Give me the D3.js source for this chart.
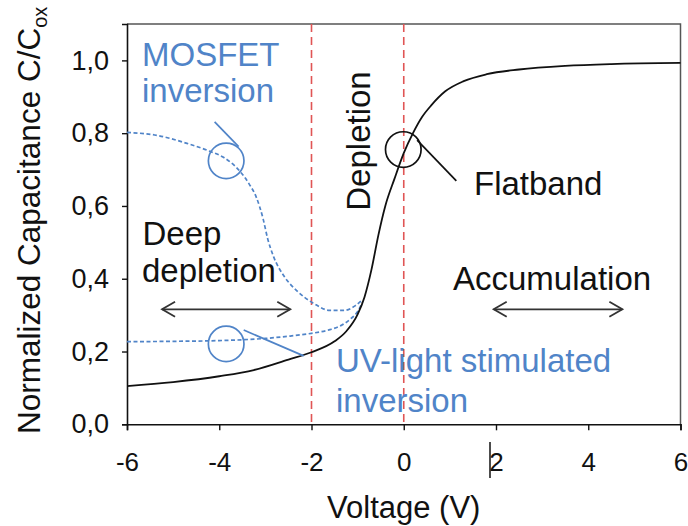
<!DOCTYPE html>
<html>
<head>
<meta charset="utf-8">
<script src="https://cdn.jsdelivr.net/npm/d3@7"></script>
<style>
  html, body { margin: 0; padding: 0; background: #fff; }
  svg { display: block; font-family: "Liberation Sans", Arial, sans-serif; }
</style>
</head>
<body>
<svg id="chart" width="688" height="526"></svg>
<script>
// C-V characteristic of a MOS capacitor (normalized capacitance vs gate voltage)

// High-frequency C-V curve (solid black)
const hfVoltage = [-6, -5, -4, -3.25, -2.5, -2, -1.5, -1.25, -1.0, -0.85, -0.7, -0.55, -0.4, -0.2, 0, 0.2, 0.4, 0.6, 0.9, 1.3, 1.8, 2.5, 3.5, 4.5, 6];
const hfCap     = [0.105, 0.116, 0.132, 0.149, 0.178, 0.198, 0.228, 0.255, 0.302, 0.35, 0.425, 0.52, 0.6, 0.675, 0.745, 0.8, 0.845, 0.877, 0.915, 0.943, 0.962, 0.975, 0.985, 0.99, 0.993];

// MOSFET inversion branch (dashed blue)
const mosVoltage = [-6, -5.4, -4.7, -4.2, -3.9, -3.55, -3.35, -3.2, -3.05, -2.95, -2.82, -2.6, -2.31, -1.95, -1.6, -1.3, -1.05, -0.9];
const mosCap     = [0.802, 0.795, 0.772, 0.75, 0.733, 0.695, 0.66, 0.625, 0.565, 0.51, 0.46, 0.408, 0.366, 0.332, 0.313, 0.313, 0.326, 0.342];

// UV-light stimulated inversion branch (dashed blue)
const uvVoltage = [-6, -5, -4, -3, -2.5, -2, -1.6, -1.35, -1.15, -1.0, -0.9];
const uvCap     = [0.227, 0.228, 0.23, 0.236, 0.242, 0.25, 0.26, 0.272, 0.29, 0.31, 0.335];

// Axes
const xTicks = [-6, -4, -2, 0, 2, 4, 6];
const yTicks = [0, 0.2, 0.4, 0.6, 0.8, 1.0];
const xDomain = [-6, 6];
const yDomain = [0, 1.1];

// Region boundaries (vertical dashed lines)
const boundaries = [-2, 0];

// Callout circles with their leader lines
const callouts = [
  { v: -3.85, c: 0.724, kind: "blue", lead: [[-4.1, 0.831], [-3.58, 0.763]] },
  { v: -3.85, c: 0.221, kind: "blue", lead: [[-3.47, 0.259], [-2.17, 0.188]] },
  { v: -0.01, c: 0.755, kind: "black", lead: [[0.29, 0.781], [1.14, 0.669]] }
];

// Double-headed range arrows: from/to in volts at given capacitance
const rangeArrows = [
  { from: -5.24, to: -2.46, c: 0.316 },
  { from: 1.95, to: 4.74, c: 0.316 }
];

const BLUE = "#5084c8";
const RED = "#e05555";
const INK = "#111";

const svg = d3.select("#chart");
const x = d3.scaleLinear(xDomain, [127, 680.5]);
const y = d3.scaleLinear(yDomain, [424.3, 24]);

// plot frame (top and right)
svg.append("path")
  .attr("d", `M${x(-6)},${y(1.1)}H${x(6)}V${y(0)}`)
  .attr("fill", "none").attr("stroke", "#555").attr("stroke-width", 1.5);

// region boundaries
svg.selectAll("line.bound").data(boundaries).join("line")
  .attr("class", "bound")
  .attr("x1", d => x(d)).attr("x2", d => x(d))
  .attr("y1", y(1.1)).attr("y2", y(0))
  .attr("stroke", RED).attr("stroke-width", 1.6)
  .attr("stroke-dasharray", "8,5");

// axes
const fmt = d => d3.format(".1f")(d).replace(".", ",");
const yAxis = svg.append("g").attr("transform", `translate(${x(-6)},0)`)
  .call(d3.axisLeft(y).tickValues(yTicks).tickFormat(fmt).tickSize(5).tickPadding(13));
const xAxis = svg.append("g").attr("transform", `translate(0,${y(0)})`)
  .call(d3.axisBottom(x).tickValues(xTicks).tickFormat(d => d3.format("d")(d).replace("−", "-")).tickSize(6).tickPadding(22));

[yAxis, xAxis].forEach(g => {
  g.select(".domain").attr("stroke", INK).attr("stroke-width", 1.6);
  g.selectAll(".tick line").attr("stroke", INK).attr("stroke-width", 1.4);
  g.selectAll(".tick text").attr("fill", INK)
    .attr("font-family", "'Liberation Sans', Arial, sans-serif");
});
yAxis.selectAll(".tick text").attr("font-size", 27);
xAxis.selectAll(".tick text").attr("font-size", 26);

// curves
const line = d3.line().x(d => x(d[0])).y(d => y(d[1])).curve(d3.curveMonotoneX);
const zip = (a, b) => a.map((v, i) => [v, b[i]]);

svg.append("path").datum(zip(mosVoltage, mosCap))
  .attr("d", line).attr("fill", "none")
  .attr("stroke", BLUE).attr("stroke-width", 1.7).attr("stroke-dasharray", "4,2.5");
svg.append("path").datum(zip(uvVoltage, uvCap))
  .attr("d", line).attr("fill", "none")
  .attr("stroke", BLUE).attr("stroke-width", 1.7).attr("stroke-dasharray", "4,2.5");
svg.append("path").datum(zip(hfVoltage, hfCap))
  .attr("d", line).attr("fill", "none")
  .attr("stroke", INK).attr("stroke-width", 1.8);

// callouts
callouts.forEach(co => {
  const col = co.kind === "blue" ? BLUE : INK;
  svg.append("circle").attr("cx", x(co.v)).attr("cy", y(co.c)).attr("r", 17.8)
    .attr("fill", "none").attr("stroke", col).attr("stroke-width", 1.7);
  svg.append("line")
    .attr("x1", x(co.lead[0][0])).attr("y1", y(co.lead[0][1]))
    .attr("x2", x(co.lead[1][0])).attr("y2", y(co.lead[1][1]))
    .attr("stroke", col).attr("stroke-width", 1.7);
});

// range arrows
rangeArrows.forEach(a => {
  const x0 = x(a.from), x1 = x(a.to), yy = y(a.c);
  const g = svg.append("g").attr("fill", "none").attr("stroke", "#333").attr("stroke-width", 1.8);
  g.append("line").attr("x1", x0).attr("x2", x1).attr("y1", yy).attr("y2", yy);
  g.append("path").attr("d", `M${x0 + 13},${yy - 7.5}L${x0},${yy}L${x0 + 13},${yy + 7.5}`);
  g.append("path").attr("d", `M${x1 - 13},${yy - 7.5}L${x1},${yy}L${x1 - 13},${yy + 7.5}`);
});

// annotations
const note = (t, px, py, col) => svg.append("text").attr("x", px).attr("y", py)
  .attr("font-size", 33).attr("fill", col).text(t);
note("MOSFET", 142, 66, BLUE);
note("inversion", 142, 102, BLUE);
note("Deep", 142.5, 245, INK);
note("depletion", 142, 282, INK);
note("Flatband", 474, 195, INK);
note("Accumulation", 453, 290, INK);
note("UV-light stimulated", 336, 372, BLUE);
note("inversion", 336, 412, BLUE);

svg.append("text")
  .attr("transform", `translate(370,141) rotate(-90)`)
  .attr("text-anchor", "middle").attr("font-size", 33).attr("fill", INK)
  .text("Depletion");

// axis titles
svg.append("text")
  .attr("x", x(0)).attr("y", 518).attr("text-anchor", "middle")
  .attr("font-size", 31).attr("fill", INK).text("Voltage (V)");

const yTitle = svg.append("text")
  .attr("transform", "translate(40,434) rotate(-90)")
  .attr("font-size", 31.5).attr("fill", INK);
yTitle.append("tspan").text("Normalized Capacitance C/C");
yTitle.append("tspan").attr("font-size", 20).attr("dy", 7).text("ox");

// text cursor mark beside the "2" label
svg.append("line")
  .attr("x1", x(1.87)).attr("x2", x(1.87))
  .attr("y1", 442).attr("y2", 478)
  .attr("stroke", INK).attr("stroke-width", 1.5);
</script>
</body>
</html>
